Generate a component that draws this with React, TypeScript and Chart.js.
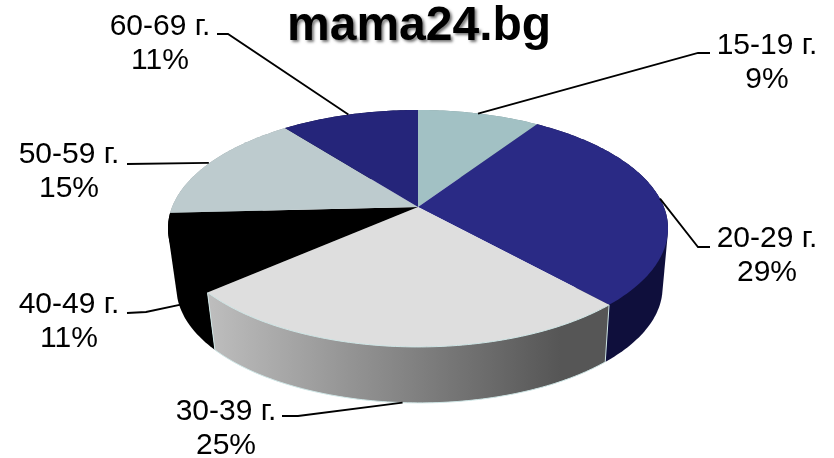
import React, { useEffect, useRef } from "react";
import { Chart, registerables } from "chart.js";

Chart.register(...registerables);

const categories = ["15-19 г.", "20-29 г.", "30-39 г.", "40-49 г.", "50-59 г.", "60-69 г."];
const shares = [9.4, 28.85, 25.35, 10.6, 15.2, 10.6];
const topColors = ["#A2C1C4", "#2A2A85", "#DEDEDE", "#000000", "#BDCBCE", "#25257A"];
const wallColors = ["#7E9699", "#0F0F3C", "#808080", "#000000", "#93A0A2", "#0F0F3C"];
const wallOrder = [5, 0, 4, 1, 3, 2];
const titleShadowed = "mama24";
const titlePlain = ".bg";

// Pie projection (ratios of the library's outer radius)
const KX = 245.9 / 207;
const KY = 114.6 / 207;
const PERSPECTIVE = 0.181;
const BOTTOM_SCALE = 0.972;
const BOTTOM_SHIFT = 1.5 / 207;
const DEPTH = 59.9 / 207;

// Label layout: text centre, first baseline, elbow, line end, wall fraction of the anchor
const labelLayout = [
  { cx: 767, y: 54, elbow: [698, 53], end: [710, 53], wall: 0, dx: -1 },
  { cx: 767, y: 247, elbow: [698, 247], end: [710, 247], wall: 0, dx: 0 },
  { cx: 226, y: 420, elbow: [298, 416], end: [282, 416], wall: 1, dx: 0 },
  { cx: 69, y: 313, elbow: [146, 312], end: [127, 313], wall: 0.88, dx: 0 },
  { cx: 69, y: 163, elbow: [127, 164], end: [127, 164], wall: 0, dx: -1 },
  { cx: 160, y: 35, elbow: [228, 34], end: [217, 34], wall: 0, dx: -1 },
];

const FONT = "30px 'Liberation Sans', Arial, sans-serif";
const LINE_HEIGHT = 34;

type Pt = [number, number];

function projector(arc: any) {
  const r = arc.outerRadius;
  return (angle: number, level: number): Pt => {
    const theta = angle + Math.PI / 2;
    const u = Math.sin(theta);
    const v = -Math.cos(theta);
    const w = 1 - PERSPECTIVE * v;
    const X = (KX * r * u) / w;
    const Y = (KY * r * v) / w;
    const s = 1 + (BOTTOM_SCALE - 1) * level;
    return [arc.x + X * s + BOTTOM_SHIFT * r * level, arc.y + Y * s + DEPTH * r * level];
  };
}

function arcPoints(arc: any, level: number): Pt[] {
  const p = projector(arc);
  const n = Math.max(2, Math.ceil(((arc.endAngle - arc.startAngle) * 180) / Math.PI));
  const pts: Pt[] = [];
  for (let i = 0; i <= n; i++) {
    pts.push(p(arc.startAngle + ((arc.endAngle - arc.startAngle) * i) / n, level));
  }
  return pts;
}

function trace(ctx: CanvasRenderingContext2D, pts: Pt[]) {
  ctx.beginPath();
  pts.forEach((pt, i) => (i ? ctx.lineTo(pt[0], pt[1]) : ctx.moveTo(pt[0], pt[1])));
}

// Convex hull of both rims: the top faces and later walls cover its inner side
function hull(points: Pt[]): Pt[] {
  const s = [...points].sort((a, b) => a[0] - b[0] || a[1] - b[1]);
  const cross = (o: Pt, a: Pt, b: Pt) => (a[0] - o[0]) * (b[1] - o[1]) - (a[1] - o[1]) * (b[0] - o[0]);
  const build = (list: Pt[]) => {
    const out: Pt[] = [];
    for (const p of list) {
      while (out.length >= 2 && cross(out[out.length - 2], out[out.length - 1], p) <= 0) out.pop();
      out.push(p);
    }
    out.pop();
    return out;
  };
  return [...build(s), ...build([...s].reverse())];
}

const pie3d = {
  id: "pie3d",
  beforeDatasetDraw(chart: any) {
    const ctx: CanvasRenderingContext2D = chart.ctx;
    const arcs = chart.getDatasetMeta(0).data;
    ctx.save();
    wallOrder.forEach((i) => {
      const arc = arcs[i];
      const top = arcPoints(arc, 0);
      const bottom = arcPoints(arc, 1);
      let paint: any = wallColors[i];
      if (i === 2) {
        const g = ctx.createLinearGradient(207, 0, 560, 0);
        g.addColorStop(0, "#BEBEBE");
        g.addColorStop(1, "#565656");
        paint = g;
      }
      ctx.fillStyle = paint;
      trace(ctx, hull([...top, ...bottom]));
      ctx.closePath();
      ctx.fill();
      if (i === 2) {
        trace(ctx, [top[0], ...bottom, top[top.length - 1]]);
        ctx.strokeStyle = "#CFE6E6";
        ctx.lineWidth = 1;
        ctx.stroke();
      }
    });
    arcs.forEach((arc: any, i: number) => {
      const pts = [[arc.x, arc.y] as Pt, ...arcPoints(arc, 0)];
      trace(ctx, pts);
      ctx.closePath();
      ctx.fillStyle = topColors[i];
      ctx.fill();
      if (i === 2) {
        trace(ctx, arcPoints(arc, 0));
        ctx.strokeStyle = "#CFE6E6";
        ctx.lineWidth = 1;
        ctx.stroke();
      }
    });
    ctx.restore();
    return false;
  },
  afterDatasetsDraw(chart: any) {
    const ctx: CanvasRenderingContext2D = chart.ctx;
    const arcs = chart.getDatasetMeta(0).data;
    ctx.save();
    ctx.font = FONT;
    ctx.textAlign = "center";
    ctx.textBaseline = "alphabetic";
    arcs.forEach((arc: any, i: number) => {
      const l = labelLayout[i];
      const p = projector(arc);
      const a = p((arc.startAngle + arc.endAngle) / 2, l.wall);
      ctx.beginPath();
      ctx.moveTo(a[0] + l.dx, a[1]);
      ctx.lineTo(l.elbow[0], l.elbow[1]);
      ctx.lineTo(l.end[0], l.end[1]);
      ctx.strokeStyle = "#000000";
      ctx.lineWidth = 1.8;
      ctx.stroke();
      ctx.fillStyle = "#000000";
      ctx.fillText(categories[i], l.cx, l.y);
      ctx.fillText(Math.round(shares[i]) + "%", l.cx, l.y + LINE_HEIGHT);
    });

    ctx.font = "bold 48px 'Liberation Sans', Arial, sans-serif";
    ctx.textAlign = "left";
    const x0 = 287;
    const base = 40;
    ctx.shadowColor = "rgba(0,0,0,0.55)";
    ctx.shadowBlur = 3;
    ctx.shadowOffsetX = 2;
    ctx.shadowOffsetY = 2;
    ctx.fillText(titleShadowed, x0, base);
    const w = ctx.measureText(titleShadowed).width;
    ctx.shadowColor = "transparent";
    ctx.shadowBlur = 0;
    ctx.shadowOffsetX = 0;
    ctx.shadowOffsetY = 0;
    ctx.fillText(titlePlain, x0 + w, base);
    ctx.restore();
  },
};

export default function App() {
  const ref = useRef<HTMLCanvasElement>(null);
  useEffect(() => {
    const chart = new Chart(ref.current as HTMLCanvasElement, {
      type: "pie",
      data: {
        labels: categories,
        datasets: [{ data: shares, backgroundColor: topColors, borderWidth: 0 }],
      },
      options: {
        responsive: false,
        animation: false,
        layout: { padding: { left: 2, right: 0, top: 0, bottom: 44 } },
        plugins: { legend: { display: false }, tooltip: { enabled: false }, title: { display: false } },
      },
      plugins: [pie3d],
    } as any);
    return () => chart.destroy();
  }, []);
  return (
    <canvas
      ref={ref}
      width={834}
      height={458}
      style={{ position: "absolute", left: 0, top: 0, width: 834, height: 458, background: "#ffffff" }}
    />
  );
}
